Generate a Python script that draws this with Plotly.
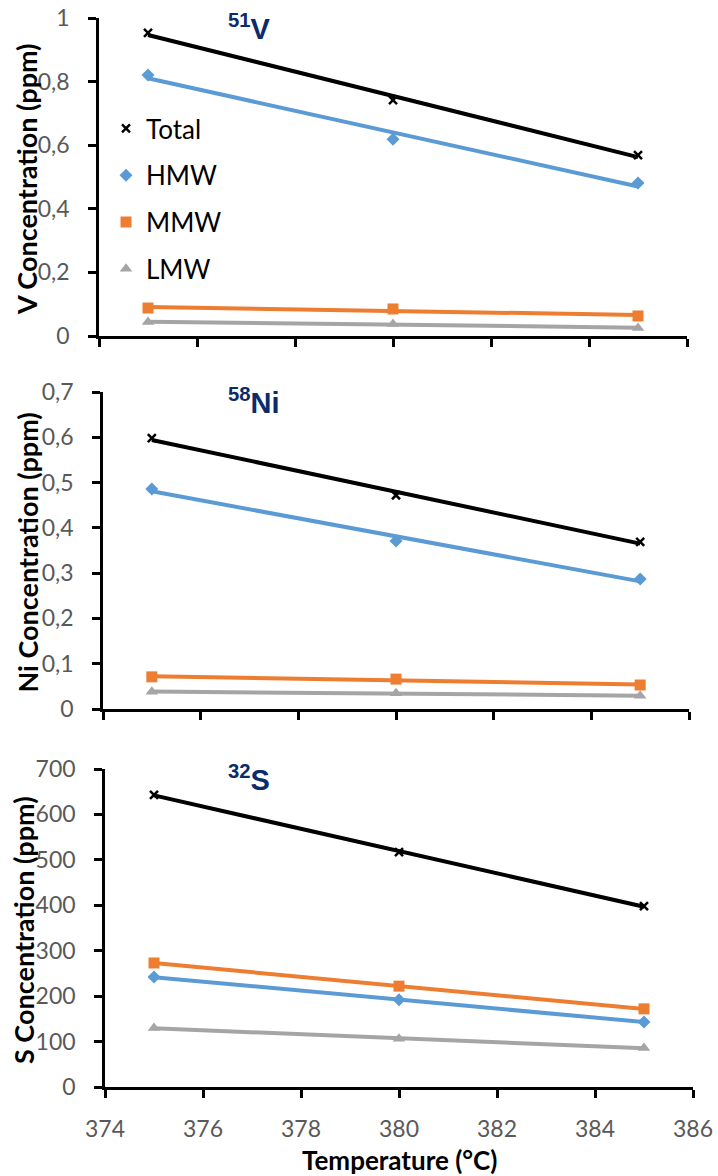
import numpy as np
import plotly.graph_objects as go

temps = [375, 380, 385]
series_names = ["Total", "HMW", "MMW", "LMW"]

v_total = [0.953, 0.742, 0.569]
v_hmw = [0.821, 0.619, 0.481]
v_mmw = [0.088, 0.085, 0.063]
v_lmw = [0.044, 0.038, 0.025]

ni_total = [0.598, 0.472, 0.369]
ni_hmw = [0.486, 0.371, 0.287]
ni_mmw = [0.071, 0.066, 0.053]
ni_lmw = [0.038, 0.035, 0.029]

s_total = [643, 517, 398]
s_hmw = [242, 192, 143]
s_mmw = [273, 222, 172]
s_lmw = [130, 106, 86]

x_ticks = [374, 376, 378, 380, 382, 384, 386]

colors = {"Total": "#000000", "HMW": "#5B9BD5", "MMW": "#ED7D31", "LMW": "#A5A5A5"}
symbols = {"Total": "x-thin-open", "HMW": "diamond", "MMW": "square", "LMW": "triangle-up"}
msizes = {"Total": 8, "HMW": 10, "MMW": 11, "LMW": 11}

W, H = 718, 1176
FONT = "Lato"

panels = [
    dict(data=[v_total, v_hmw, v_mmw, v_lmw], rng=[0, 1], dtick=0.2,
         xd=(99, 687), yd=(18, 336), ytitle="V Concentration (ppm)", yt_x=26, iso="51", el="V"),
    dict(data=[ni_total, ni_hmw, ni_mmw, ni_lmw], rng=[0, 0.7], dtick=0.1,
         xd=(103, 689), yd=(392, 709), ytitle="Ni Concentration (ppm)", yt_x=27, iso="58", el="Ni"),
    dict(data=[s_total, s_hmw, s_mmw, s_lmw], rng=[0, 700], dtick=100,
         xd=(105, 693), yd=(769, 1087), ytitle="S Concentration (ppm)", yt_x=23, iso="32", el="S"),
]

fig = go.Figure()
annotations = []
layout = {}

for i, p in enumerate(panels):
    n = i + 1
    xa = "x" if n == 1 else f"x{n}"
    ya = "y" if n == 1 else f"y{n}"
    for name, vals in zip(series_names, p["data"]):
        coef = np.polyfit(temps, vals, 1)
        xs = [temps[0], temps[-1]]
        ys = list(np.polyval(coef, xs))
        fig.add_trace(go.Scatter(x=xs, y=ys, mode="lines", xaxis=xa, yaxis=ya,
                                 line=dict(color=colors[name], width=4), showlegend=False,
                                 hoverinfo="skip"))
    for name, vals in zip(series_names, p["data"]):
        mk = dict(color=colors[name], size=msizes[name], symbol=symbols[name])
        if name == "Total":
            mk["line"] = dict(color="#000000", width=2.5)
        fig.add_trace(go.Scatter(x=temps, y=vals, mode="markers", name=name, xaxis=xa, yaxis=ya,
                                 marker=mk, showlegend=(n == 1), legendgroup=name))
    x0, x1 = p["xd"]
    ytop, ybot = p["yd"]
    xkey = "xaxis" if n == 1 else f"xaxis{n}"
    ykey = "yaxis" if n == 1 else f"yaxis{n}"
    layout[xkey] = dict(domain=[x0 / W, x1 / W], range=[374, 386], tickvals=x_ticks,
                        showticklabels=(n == 3), anchor=ya, showgrid=False, zeroline=False,
                        showline=True, linecolor="black", linewidth=2.5, ticks="outside",
                        ticklen=8, tickwidth=2.5, tickcolor="black", automargin=False,
                        tickfont=dict(family=FONT, size=23, color="#595959"),
                        ticklabelstandoff=12)
    layout[ykey] = dict(domain=[1 - ybot / H, 1 - ytop / H], range=p["rng"], dtick=p["dtick"],
                        tick0=0, anchor=xa, showgrid=False, zeroline=False,
                        showline=True, linecolor="black", linewidth=2.5, ticks="outside",
                        ticklen=8, tickwidth=2.5, tickcolor="black", automargin=False,
                        tickfont=dict(family=FONT, size=23, color="#595959"),
                        ticklabelstandoff=14)
    annotations.append(dict(text=f"<b>{p['ytitle']}</b>", textangle=-90, xref="paper", yref="paper",
                            x=p["yt_x"] / W, y=1 - ((ytop + ybot) / 2 + 2) / H,
                            xanchor="center", yanchor="middle", showarrow=False,
                            font=dict(family=FONT, size=27, color="black")))
    annotations.append(dict(text=f"<b><sup>{p['iso']}</sup>{p['el']}</b>", xref="paper", yref="paper",
                            x=226 / W, y=1 - (ytop + 9) / H, xanchor="left", yanchor="middle",
                            showarrow=False,
                            font=dict(family="Liberation Sans", size=29, color="#0B2B6B")))

annotations.append(dict(text="<b>Temperature (°C)</b>", xref="paper", yref="paper",
                        x=399 / W, y=1 - 1160 / H, xanchor="center", yanchor="middle",
                        showarrow=False,
                        font=dict(family=FONT, size=26, color="black")))

fig.update_layout(**layout)
fig.update_layout(
    width=W, height=H, margin=dict(l=0, r=0, t=0, b=0, autoexpand=False),
    paper_bgcolor="white", plot_bgcolor="white",
    separators=",.",
    annotations=annotations,
    legend=dict(x=106 / W, y=1 - 105 / H, xanchor="left", yanchor="top",
                font=dict(family=FONT, size=26, color="black"),
                tracegroupgap=10, bgcolor="rgba(0,0,0,0)"),
    showlegend=True,
)

fig.write_html("out.html", config={"displayModeBar": False},
               post_script="document.body.style.margin='0';document.body.style.overflow='hidden';")
